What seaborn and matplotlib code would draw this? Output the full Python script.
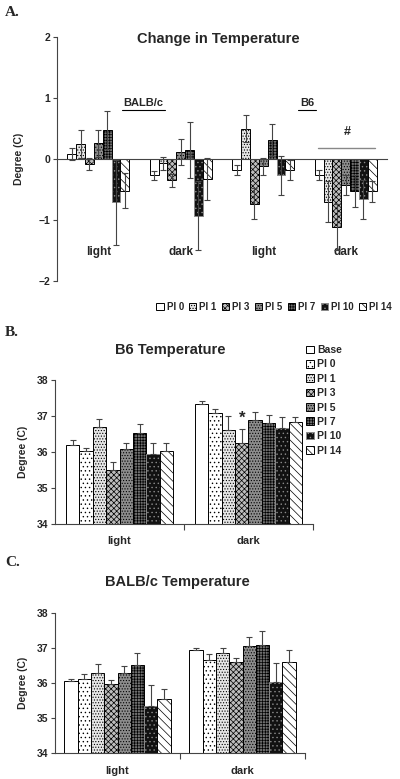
import numpy as np
import pandas as pd
import matplotlib.pyplot as plt
import seaborn as sns

# panel A: change in temperature (PI 0 .. PI 14)
groups_a = ['PI 0', 'PI 1', 'PI 3', 'PI 5', 'PI 7', 'PI 10', 'PI 14']
conds_a = ['BALB/c light', 'BALB/c dark', 'B6 light', 'B6 dark']
phase_a = ['light', 'dark', 'light', 'dark']
change_balbc_light = [0.08, 0.25, -0.08, 0.26, 0.47, -0.71, -0.52]
change_balbc_light_err = [0.10, 0.23, 0.10, 0.22, 0.31, 0.70, 0.29]
change_balbc_dark = [-0.27, -0.07, -0.35, 0.11, 0.15, -0.93, -0.33]
change_balbc_dark_err = [0.07, 0.11, 0.11, 0.21, 0.46, 0.57, 0.35]
change_b6_light = [-0.18, 0.50, -0.73, -0.12, 0.31, -0.27, -0.18]
change_b6_light_err = [0.08, 0.22, 0.25, 0.14, 0.26, 0.32, 0.17]
change_b6_dark = [-0.26, -0.70, -1.11, -0.43, -0.53, -0.66, -0.53]
change_b6_dark_err = [0.08, 0.34, 0.38, 0.16, 0.26, 0.32, 0.17]

# panels B and C: absolute temperature
groups_bc = ['Base', 'PI 0', 'PI 1', 'PI 3', 'PI 5', 'PI 7', 'PI 10', 'PI 14']
phases = ['light', 'dark']
b6_light = [36.20, 36.02, 36.70, 35.50, 36.08, 36.53, 35.95, 36.03]
b6_light_err = [0.12, 0.10, 0.21, 0.21, 0.17, 0.25, 0.30, 0.22]
b6_dark = [37.33, 37.07, 36.62, 36.24, 36.89, 36.81, 36.68, 36.82]
b6_dark_err = [0.09, 0.13, 0.38, 0.41, 0.21, 0.21, 0.30, 0.16]
balbc_light = [36.07, 36.12, 36.30, 35.96, 36.30, 36.51, 35.33, 35.55]
balbc_light_err = [0.05, 0.14, 0.24, 0.14, 0.20, 0.35, 0.62, 0.28]
balbc_dark = [36.93, 36.67, 36.86, 36.59, 37.05, 37.09, 36.02, 36.59]
balbc_dark_err = [0.07, 0.16, 0.14, 0.13, 0.26, 0.41, 0.55, 0.34]

# fill style per group: facecolor, hatch, edgecolor
fills = {
    'Base': ('white', '', 'black'),
    'PI 0': ('white', '....', 'black'),
    'PI 1': ('#e6e6e6', '......', 'black'),
    'PI 3': ('#bdbdbd', 'xxxxxx', 'black'),
    'PI 5': ('#8c8c8c', '......', 'black'),
    'PI 7': ('#707070', '++++++', 'black'),
    'PI 10': ('#111111', '....', '#8a8a8a'),
    'PI 14': ('white', '\\\\\\\\', 'black'),
}
# in panel A the PI 0 bars are plain white
fills_a = dict(fills)
fills_a['PI 0'] = ('white', '', 'black')

AXIS_COLOR = '#444444'
ERR_COLOR = '#444444'


def long_table(conds, groups, series):
    rows = []
    for cond, vals in zip(conds, series):
        for g, v in zip(groups, vals):
            rows.append({'cond': cond, 'group': g, 'value': v})
    return pd.DataFrame(rows)


def style_and_errors(ax, groups, errs, one_sided, styles):
    # one container per hue level, bars in x order
    bar_sets = list(ax.containers)
    for container, g in zip(bar_sets, groups):
        fc, hatch, ec = styles[g]
        for bar in container:
            bar.set_facecolor(fc)
            bar.set_hatch(hatch)
            bar.set_edgecolor(ec)
            bar.set_linewidth(0.7)
    for i, container in enumerate(bar_sets):
        for j, bar in enumerate(container):
            x = bar.get_x() + bar.get_width() / 2
            y = bar.get_y() + bar.get_height()
            e = errs[j][i]
            yerr = [[0], [e]] if one_sided else e
            ax.errorbar(x, y, yerr=yerr, color=ERR_COLOR, lw=0.8,
                        capsize=2, capthick=0.8, zorder=5)
    return bar_sets


def style_axis(ax):
    for s in ['top', 'right']:
        ax.spines[s].set_visible(False)
    for s in ['left', 'bottom']:
        ax.spines[s].set_color(AXIS_COLOR)
        ax.spines[s].set_linewidth(0.8)
    ax.tick_params(axis='y', direction='out', length=3, width=0.8,
                   color=AXIS_COLOR, labelsize=7.5, pad=2)
    for lab in ax.get_yticklabels():
        lab.set_fontweight('bold')


def panel_change(fig):
    ax = fig.add_axes([57 / 400, 1 - 281 / 779, 330 / 400, 244 / 779])
    df = long_table(conds_a, groups_a, [change_balbc_light, change_balbc_dark,
                                        change_b6_light, change_b6_dark])
    sns.barplot(data=df, x='cond', y='value', hue='group', order=conds_a,
                hue_order=groups_a, width=0.75, saturation=1,
                errorbar=None, legend=False, ax=ax)
    errs = [change_balbc_light_err, change_balbc_dark_err,
            change_b6_light_err, change_b6_dark_err]
    bar_sets = style_and_errors(ax, groups_a, errs, one_sided=False, styles=fills_a)

    ax.set_ylim(-2, 2)
    ax.set_xlim(-0.5, 3.5)
    ax.set_yticks([-2, -1, 0, 1, 2])
    style_axis(ax)
    ax.spines['bottom'].set_position(('data', 0))
    ax.set_xticks([])
    ax.set_xlabel('')
    ax.set_ylabel('Degree (C)', fontsize=7.5, fontweight='bold', labelpad=10)

    for x, p in enumerate(phase_a):
        ax.text(x, -1.52, p, ha='center', va='center', fontsize=8.5, fontweight='bold')

    ax.text(0.54, 0.92, 'BALB/c', ha='center', va='center', fontsize=8, fontweight='bold')
    ax.plot([0.29, 0.81], [0.80, 0.80], color='black', lw=0.8)
    ax.text(2.53, 0.92, 'B6', ha='center', va='center', fontsize=8, fontweight='bold')
    ax.plot([2.42, 2.64], [0.80, 0.80], color='black', lw=0.8)
    ax.text(3.02, 0.44, '#', ha='center', va='center', fontsize=9, fontweight='bold')
    ax.plot([2.66, 3.35], [0.18, 0.18], color='#888888', lw=1.0)

    handles = [c[0] for c in bar_sets]
    fig.legend(handles, groups_a, loc='center', bbox_to_anchor=(0.685, 1 - 307 / 779),
               ncol=7, frameon=False, handlelength=0.75, handleheight=0.75,
               handletextpad=0.3, columnspacing=0.55, borderaxespad=0,
               prop={'weight': 'bold', 'size': 7})
    fig.text(218 / 400, 1 - 39 / 779, 'Change in Temperature', ha='center', va='center',
             fontsize=10.5, fontweight='bold')


def panel_temp(fig, rect, light, dark, light_err, dark_err, title, title_xy,
               width, with_legend=False, star=False):
    ax = fig.add_axes(rect)
    df = long_table(phases, groups_bc, [light, dark])
    sns.barplot(data=df, x='cond', y='value', hue='group', order=phases,
                hue_order=groups_bc, width=width, saturation=1,
                errorbar=None, legend=False, ax=ax)
    bar_sets = style_and_errors(ax, groups_bc, [light_err, dark_err],
                                one_sided=True, styles=fills)

    ax.set_ylim(34, 38)
    ax.set_xlim(-0.5, 1.5)
    ax.set_yticks([34, 35, 36, 37, 38])
    style_axis(ax)
    ax.set_xticks([0, 1])
    ax.set_xticklabels(phases, fontsize=8, fontweight='bold')
    ax.set_xticks([0.5, 1.5], minor=True)
    ax.tick_params(axis='x', which='major', length=0, pad=9)
    ax.tick_params(axis='x', which='minor', length=4, width=0.8, color=AXIS_COLOR)
    ax.set_xlabel('')
    ax.set_ylabel('Degree (C)', fontsize=7.5, fontweight='bold', labelpad=6)

    if star:
        bar = bar_sets[3][1]
        ax.text(bar.get_x() + bar.get_width() / 2, 36.93, '*', ha='center',
                va='center', fontsize=12, fontweight='bold')

    if with_legend:
        handles = [c[0] for c in bar_sets]
        fig.legend(handles, groups_bc, loc='upper left',
                   bbox_to_anchor=(306 / 400, 1 - 345 / 779), ncol=1, frameon=False,
                   handlelength=0.75, handleheight=0.75, handletextpad=0.35,
                   labelspacing=0.42, borderaxespad=0, borderpad=0,
                   prop={'weight': 'bold', 'size': 7.5})

    fig.text(title_xy[0] / 400, 1 - title_xy[1] / 779, title, ha='center', va='center',
             fontsize=10.5, fontweight='bold')


def main():
    sns.set_style('ticks')
    plt.rcParams['font.family'] = ['Liberation Sans', 'DejaVu Sans']
    plt.rcParams['hatch.linewidth'] = 0.5

    fig = plt.figure(figsize=(4, 7.79), dpi=100)

    panel_change(fig)
    panel_temp(fig, [55 / 400, 1 - 524 / 779, 258 / 400, 144 / 779],
               b6_light, b6_dark, b6_light_err, b6_dark_err,
               'B6 Temperature', (170, 350), width=0.83, with_legend=True, star=True)
    panel_temp(fig, [55 / 400, 1 - 753 / 779, 250 / 400, 140 / 779],
               balbc_light, balbc_dark, balbc_light_err, balbc_dark_err,
               'BALB/c Temperature', (177, 582), width=0.85)

    for letter, y in [('A.', 12), ('B.', 332), ('C.', 563)]:
        fig.text(5 / 400, 1 - y / 779, letter, ha='left', va='center', fontsize=11,
                 fontweight='bold', family='Liberation Serif')

    fig.savefig('out.png', dpi=100)


if __name__ == "__main__":
    main()
